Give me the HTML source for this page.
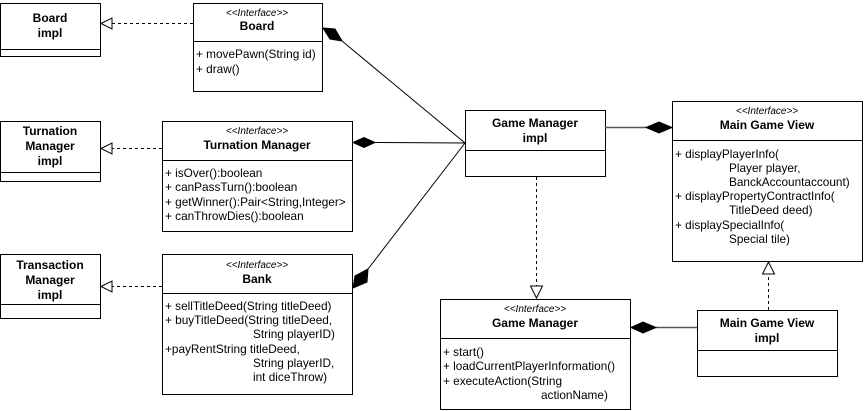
<!DOCTYPE html>
<html><head><meta charset="utf-8"><style>
html,body{margin:0;padding:0;background:#fff;width:864px;height:411px;overflow:hidden}
svg text{font-family:"Liberation Sans",Arial,sans-serif;fill:#000}
.h{font-size:12px;font-weight:bold}
.s{font-size:10px;font-style:italic}
.m{font-size:11.8px}
</style></head><body>
<svg width="864" height="411" xmlns="http://www.w3.org/2000/svg">
<g fill="#fff" stroke="#000" stroke-width="1">
<rect x="0.5" y="3.5" width="100" height="53"/><line x1="0" y1="49.5" x2="100" y2="49.5"/>
<rect x="193.5" y="3.5" width="129" height="88"/><line x1="193" y1="41.5" x2="322" y2="41.5"/>
<rect x="0.5" y="121.5" width="100" height="60"/><line x1="0" y1="172.5" x2="100" y2="172.5"/>
<rect x="162.5" y="121.5" width="190" height="110"/><line x1="162" y1="160.5" x2="352" y2="160.5"/>
<rect x="0.5" y="254.5" width="100" height="64"/><line x1="0" y1="304.5" x2="100" y2="304.5"/>
<rect x="162.5" y="254.5" width="190" height="140"/><line x1="162" y1="293.5" x2="352" y2="293.5"/>
<rect x="465.5" y="110.5" width="140" height="66"/><line x1="465" y1="150.5" x2="605" y2="150.5"/>
<rect x="672.5" y="101.5" width="190" height="160"/><line x1="672" y1="140.5" x2="862" y2="140.5"/>
<rect x="440.5" y="299.5" width="190" height="110"/><line x1="440" y1="338.5" x2="630" y2="338.5"/>
<rect x="697.5" y="310.5" width="140" height="66"/><line x1="697" y1="350.5" x2="837" y2="350.5"/>
</g>
<g stroke="#000" fill="none">
<line x1="193" y1="23.5" x2="112" y2="23.5" stroke-dasharray="3,3"/>
<line x1="162" y1="148.5" x2="112" y2="148.5" stroke-dasharray="3,3"/>
<line x1="162" y1="286.5" x2="112" y2="286.5" stroke-dasharray="3,3"/>
<line x1="536.5" y1="177" x2="536.5" y2="286" stroke-dasharray="3,3"/>
<line x1="768.5" y1="310" x2="768.5" y2="274" stroke-dasharray="3,3"/>
<line x1="342" y1="41" x2="465" y2="143"/>
<line x1="375" y1="142.5" x2="465" y2="143"/>
<line x1="368" y1="269" x2="465" y2="143"/>
<line x1="605" y1="127.5" x2="646" y2="127.5" stroke="#555" stroke-width="1.5"/>
<line x1="697" y1="327.5" x2="656" y2="327.5" stroke="#555" stroke-width="1.5"/>
</g>
<g fill="#fff" stroke="#000">
<polygon points="101,23.5 112,18 112,29"/>
<polygon points="101,148.5 112,143 112,154"/>
<polygon points="101,286.5 112,281 112,292"/>
<polygon points="536.5,298 530.5,286 542.5,286"/>
<polygon points="768.5,262 762.5,274 774.5,274"/>
</g>
<g fill="#000" stroke="#000">
<polygon points="323,28 335,29 342,41 330,39"/>
<polygon points="353,142.5 364,137.5 375,142.5 364,147.5"/>
<polygon points="353,288 355,276 368,269 367,282"/>
<polygon points="646,127.5 659,122 672,127.5 659,133"/>
<polygon points="631,327.5 643,322 656,327.5 643,333"/>
</g>
<g text-anchor="middle">
<text class="h" x="50" y="22">Board</text><text class="h" x="50" y="37">impl</text>
<text class="s" x="257" y="16">&lt;&lt;Interface&gt;&gt;</text><text class="h" x="257" y="30">Board</text>
<text class="h" x="50" y="135">Turnation</text><text class="h" x="50" y="150">Manager</text><text class="h" x="50" y="165">impl</text>
<text class="s" x="257" y="134">&lt;&lt;Interface&gt;&gt;</text><text class="h" x="257" y="149">Turnation Manager</text>
<text class="h" x="50" y="269">Transaction</text><text class="h" x="50" y="284">Manager</text><text class="h" x="50" y="299">impl</text>
<text class="s" x="257" y="268">&lt;&lt;Interface&gt;&gt;</text><text class="h" x="257" y="283">Bank</text>
<text class="h" x="535" y="127">Game Manager</text><text class="h" x="535" y="142">impl</text>
<text class="s" x="767" y="114">&lt;&lt;Interface&gt;&gt;</text><text class="h" x="767" y="129">Main Game View</text>
<text class="s" x="535" y="312">&lt;&lt;Interface&gt;&gt;</text><text class="h" x="535" y="327">Game Manager</text>
<text class="h" x="767" y="327">Main Game View</text><text class="h" x="767" y="342">impl</text>
</g>
<g>
<text class="m" x="196" y="58">+ movePawn(String id)</text>
<text class="m" x="196" y="73">+ draw()</text>
<text class="m" x="165" y="177">+ isOver():boolean</text>
<text class="m" x="165" y="191">+ canPassTurn():boolean</text>
<text class="m" x="165" y="206">+ getWinner():Pair&lt;String,Integer&gt;</text>
<text class="m" x="165" y="220">+ canThrowDies():boolean</text>
<text class="m" x="165" y="310">+ sellTitleDeed(String titleDeed)</text>
<text class="m" x="165" y="324">+ buyTitleDeed(String titleDeed,</text>
<text class="m" x="253" y="338">String playerID)</text>
<text class="m" x="165" y="353">+payRentString titleDeed,</text>
<text class="m" x="253" y="367">String playerID,</text>
<text class="m" x="253" y="381">int diceThrow)</text>
<text class="m" x="675" y="158">+ displayPlayerInfo(</text>
<text class="m" x="729" y="172">Player player,</text>
<text class="m" x="729" y="186">BanckAccountaccount)</text>
<text class="m" x="675" y="200">+ displayPropertyContractInfo(</text>
<text class="m" x="729" y="214">TitleDeed deed)</text>
<text class="m" x="675" y="229">+ displaySpecialInfo(</text>
<text class="m" x="729" y="243">Special tile)</text>
<text class="m" x="443" y="356">+ start()</text>
<text class="m" x="443" y="370">+ loadCurrentPlayerInformation()</text>
<text class="m" x="443" y="385">+ executeAction(String</text>
<text class="m" x="541" y="399">actionName)</text>
</g>
</svg>
</body></html>
